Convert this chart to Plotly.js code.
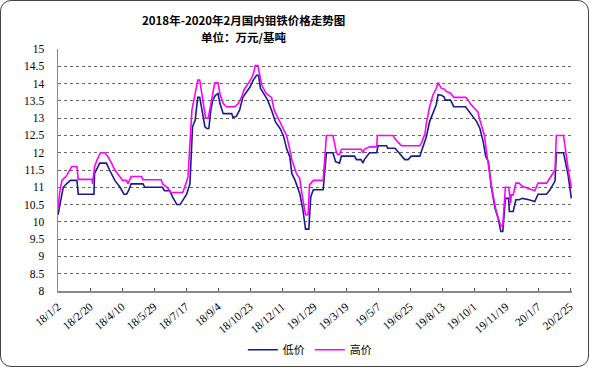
<!DOCTYPE html>
<html><head><meta charset="utf-8">
<script src="https://cdn.plot.ly/plotly-3.0.1.min.js"></script>
<style>
html,body{margin:0;padding:0;background:#fff;}
#wrap{position:relative;width:589px;height:367px;}
#chart{width:589px;height:367px;}
#frame{position:absolute;left:0;top:0;width:587px;height:365px;border:1px solid #444;border-radius:11px;pointer-events:none;}
</style></head>
<body>
<div id="wrap"><div id="chart"></div><div id="frame"></div></div>
<script>
// 低价 (low price), 万元/基吨
const lowDates = ['2018-01-02','2018-01-08','2018-01-10','2018-01-15','2018-01-21','2018-01-31','2018-02-02','2018-02-26','2018-02-27','2018-03-07','2018-03-17','2018-03-22','2018-03-30','2018-04-07','2018-04-10','2018-04-13','2018-04-17','2018-04-20','2018-04-24','2018-05-12','2018-05-15','2018-06-11','2018-06-14','2018-06-22','2018-06-27','2018-06-30','2018-07-03','2018-07-08','2018-07-11','2018-07-18','2018-07-23','2018-07-27','2018-07-31','2018-08-04','2018-08-07','2018-08-10','2018-08-15','2018-08-18','2018-08-21','2018-08-24','2018-08-27','2018-08-31','2018-09-04','2018-09-07','2018-09-12','2018-09-25','2018-09-27','2018-10-02','2018-10-07','2018-10-12','2018-10-18','2018-10-23','2018-10-28','2018-11-02','2018-11-05','2018-11-08','2018-11-13','2018-11-19','2018-11-25','2018-12-01','2018-12-08','2018-12-13','2018-12-18','2018-12-23','2018-12-26','2018-12-31','2019-01-07','2019-01-12','2019-01-16','2019-01-21','2019-01-24','2019-01-28','2019-02-12','2019-02-17','2019-02-27','2019-03-03','2019-03-09','2019-03-12','2019-04-01','2019-04-04','2019-04-11','2019-04-14','2019-04-16','2019-04-24','2019-05-05','2019-05-07','2019-05-20','2019-05-22','2019-06-02','2019-06-07','2019-06-12','2019-06-17','2019-06-22','2019-06-27','2019-07-10','2019-07-13','2019-07-16','2019-07-20','2019-07-25','2019-07-30','2019-08-04','2019-08-07','2019-08-12','2019-08-16','2019-08-18','2019-08-26','2019-08-31','2019-09-18','2019-09-21','2019-09-26','2019-10-02','2019-10-05','2019-10-10','2019-10-15','2019-10-19','2019-10-23','2019-10-27','2019-11-02','2019-11-07','2019-11-11','2019-11-14','2019-11-18','2019-11-23','2019-11-24','2019-11-30','2019-12-04','2019-12-09','2019-12-14','2019-12-24','2020-01-02','2020-01-07','2020-01-20','2020-01-25','2020-02-02','2020-02-04','2020-02-15','2020-02-22','2020-02-27'];
const lowValues = [10.2,10.8,11.0,11.1,11.2,11.2,10.8,10.8,11.4,11.7,11.7,11.5,11.2,11.0,10.9,10.8,10.8,10.9,11.1,11.1,11.0,11.0,10.9,10.9,10.7,10.6,10.5,10.5,10.6,10.8,11.1,12.75,12.94,13.6,13.6,13.23,12.75,12.7,12.7,13.23,13.52,13.66,13.71,13.42,13.13,13.13,13.02,13.05,13.23,13.6,13.76,13.9,14.1,14.24,14.24,13.86,13.71,13.52,13.23,12.89,12.7,12.5,12.12,11.88,11.4,11.2,10.83,10.35,9.79,9.79,10.73,10.93,10.93,12.0,12.0,11.74,11.7,11.9,11.9,11.8,11.8,11.7,11.8,12.0,12.0,12.2,12.2,12.13,12.13,12.03,11.9,11.8,11.8,11.9,11.9,12.07,12.2,12.46,12.9,13.14,13.38,13.68,13.66,13.62,13.52,13.52,13.33,13.33,13.26,13.13,12.99,12.9,12.7,12.32,11.88,11.74,11.07,10.4,10.1,9.72,9.72,10.68,10.68,10.3,10.3,10.64,10.64,10.68,10.64,10.59,10.8,10.8,10.92,11.18,12.0,12.0,11.36,10.68];

// 高价 (high price), 万元/基吨
const highDates = ['2018-01-02','2018-01-05','2018-01-08','2018-01-15','2018-01-23','2018-01-31','2018-02-02','2018-02-23','2018-02-24','2018-02-27','2018-03-03','2018-03-08','2018-03-15','2018-03-19','2018-03-25','2018-03-30','2018-04-07','2018-04-11','2018-04-17','2018-04-19','2018-04-24','2018-05-10','2018-05-12','2018-06-09','2018-06-11','2018-06-18','2018-06-24','2018-07-12','2018-07-15','2018-07-20','2018-07-26','2018-08-04','2018-08-07','2018-08-10','2018-08-15','2018-08-16','2018-08-20','2018-08-24','2018-08-29','2018-08-30','2018-09-04','2018-09-07','2018-09-12','2018-09-17','2018-09-30','2018-10-05','2018-10-10','2018-10-14','2018-10-20','2018-10-25','2018-10-29','2018-10-31','2018-11-04','2018-11-07','2018-11-10','2018-11-17','2018-11-25','2018-11-29','2018-12-05','2018-12-10','2018-12-18','2018-12-23','2018-12-26','2019-01-02','2019-01-07','2019-01-12','2019-01-16','2019-01-20','2019-01-22','2019-01-28','2019-02-12','2019-02-17','2019-02-27','2019-03-04','2019-03-06','2019-03-09','2019-03-12','2019-04-11','2019-04-14','2019-04-16','2019-04-24','2019-05-05','2019-05-06','2019-05-30','2019-06-02','2019-06-07','2019-06-12','2019-07-10','2019-07-13','2019-07-18','2019-07-20','2019-07-25','2019-07-30','2019-08-04','2019-08-07','2019-08-12','2019-08-17','2019-08-19','2019-08-26','2019-08-31','2019-09-18','2019-09-21','2019-09-26','2019-10-02','2019-10-07','2019-10-09','2019-10-17','2019-10-20','2019-10-25','2019-10-29','2019-11-04','2019-11-11','2019-11-14','2019-11-18','2019-11-23','2019-11-26','2019-11-27','2019-11-30','2019-12-04','2019-12-09','2019-12-14','2019-12-24','2020-01-02','2020-01-07','2020-01-20','2020-01-25','2020-02-02','2020-02-04','2020-02-15','2020-02-22','2020-02-27'];
const highValues = [10.4,10.9,11.2,11.33,11.6,11.6,11.23,11.23,11.1,11.6,11.8,12.0,12.0,11.9,11.7,11.5,11.3,11.2,11.2,11.1,11.31,11.31,11.22,11.22,11.1,11.0,10.85,10.85,11.0,11.3,13.23,14.1,14.1,13.7,13.04,13.0,13.0,13.42,13.9,14.02,14.02,13.7,13.42,13.33,13.33,13.42,13.6,13.83,14.0,14.14,14.34,14.52,14.52,14.24,13.95,13.71,13.6,13.23,13.0,12.8,12.5,12.08,11.8,11.4,11.26,10.63,10.21,10.21,11.07,11.2,11.2,12.5,12.5,12.03,11.95,11.95,12.1,12.1,12.0,12.1,12.17,12.17,12.5,12.5,12.4,12.3,12.2,12.2,12.3,12.56,12.85,13.33,13.67,13.85,14.03,13.86,13.84,13.78,13.72,13.6,13.6,13.55,13.4,13.28,13.18,13.0,12.5,12.03,11.36,10.88,10.3,9.88,9.88,11.0,11.0,10.54,10.78,10.78,11.12,11.12,11.03,10.97,10.9,11.12,11.12,11.26,11.5,12.5,12.5,11.55,10.97];

const xTickVals = ['2018-01-02','2018-02-20','2018-04-10','2018-05-29','2018-07-17','2018-09-04','2018-10-23','2018-12-11','2019-01-29','2019-03-19','2019-05-07','2019-06-25','2019-08-13','2019-10-01','2019-11-19','2020-01-07','2020-02-25'];
const xTickText = ['18/1/2','18/2/20','18/4/10','18/5/29','18/7/17','18/9/4','18/10/23','18/12/11','19/1/29','19/3/19','19/5/7','19/6/25','19/8/13','19/10/1','19/11/19','20/1/7','20/2/25'];
const yTickVals = [8,8.5,9,9.5,10,10.5,11,11.5,12,12.5,13,13.5,14,14.5,15];
const yTickText = ['8','8.5','9','9.5','10','10.5','11','11.5','12','12.5','13','13.5','14','14.5','15'];
const titleLines = ['2018年-2020年2月国内钼铁价格走势图', '单位：万元/基吨'];

const serif = '"Liberation Serif", "Noto Sans CJK SC", serif';
const cjk = '"Noto Sans CJK SC", "Liberation Serif", sans-serif';

const traces = [
  {x: lowDates, y: lowValues, name: '低价', type: 'scatter', mode: 'lines',
   line: {color: '#1a1a8c', width: 1.6}},
  {x: highDates, y: highValues, name: '高价', type: 'scatter', mode: 'lines',
   line: {color: '#ff00ff', width: 1.6}}
];

const layout = {
  width: 589, height: 367,
  margin: {l: 58, r: 17, t: 49, b: 76, autoexpand: false},
  paper_bgcolor: '#ffffff', plot_bgcolor: '#ffffff',
  showlegend: true,
  legend: {orientation: 'h', x: 0.49, xanchor: 'center', xref: 'paper', y: -0.243, yanchor: 'middle',
    font: {family: cjk, size: 11, color: '#000'}, itemwidth: 30, tracegroupgap: 0, bgcolor: 'rgba(0,0,0,0)'},
  annotations: [
    {text: '<b>' + titleLines[0] + '</b>', xref: 'paper', yref: 'paper', x: (243 - 58) / 514, y: 1.118,
     xanchor: 'center', yanchor: 'middle', showarrow: false, font: {family: cjk, size: 11.5, color: '#000'}},
    {text: '<b>' + titleLines[1] + '</b>', xref: 'paper', yref: 'paper', x: (243 - 58) / 514, y: 1.049,
     xanchor: 'center', yanchor: 'middle', showarrow: false, font: {family: cjk, size: 11.5, color: '#000'}}
  ],
  xaxis: {type: 'date', range: ['2018-01-02', '2020-02-28'], tickmode: 'array',
    tickvals: xTickVals, ticktext: xTickText, tickangle: -40, automargin: false,
    tickfont: {family: serif, size: 11.5, color: '#000'}, ticklabelstandoff: 3,
    showgrid: false, zeroline: false, showline: true, linecolor: '#888', linewidth: 1.5,
    ticks: 'inside', ticklen: 3, tickcolor: '#555', tickwidth: 1, fixedrange: true},
  yaxis: {range: [8, 15], tickmode: 'array', tickvals: yTickVals, ticktext: yTickText, automargin: false,
    tickfont: {family: serif, size: 11.5, color: '#000'},
    showgrid: true, gridcolor: '#666', griddash: 'dot', gridwidth: 1,
    zeroline: false, showline: true, linecolor: '#888', linewidth: 1.5,
    ticks: '', ticklabelstandoff: 10, fixedrange: true}
};

Plotly.newPlot('chart', traces, layout, {displayModeBar: false, staticPlot: true});
</script>
</body></html>
